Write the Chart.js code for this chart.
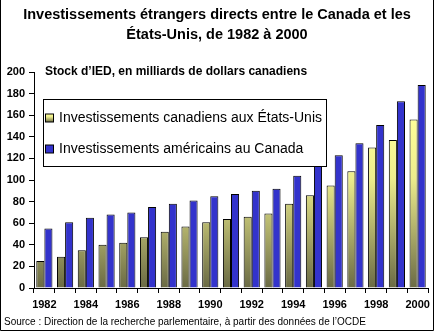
<!DOCTYPE html>
<html>
<head>
<meta charset="utf-8">
<script src="https://cdn.jsdelivr.net/npm/chart.js@4"></script>
<style>
html,body{margin:0;padding:0;background:#fff;}
#wrap{width:435px;height:332px;position:relative;}
</style>
</head>
<body>
<div id="wrap"><canvas id="c" width="435" height="332"></canvas></div>
<script>
const years = ['1982','1983','1984','1985','1986','1987','1988','1989','1990','1991','1992','1993','1994','1995','1996','1997','1998','1999','2000'];
const canadianInUS = [25,29,35,40,42,47,52,57,61,64,66,69,78,86,95,108,130,137,156];
const usInCanada = [55,61,65,68,70,75,78,81,85,87,90,92,104,115,123,134,151,173,188];
const seriesLabels = ['Investissements canadiens aux États-Unis','Investissements américains au Canada'];
const titleLines = ['Investissements étrangers directs entre le Canada et les','États-Unis, de 1982 à 2000'];
const unitLabel = 'Stock d\u2019IED, en milliards de dollars canadiens';
const sourceLabel = 'Source : Direction de la recherche parlementaire, à partir des données de l\u2019OCDE';

const FONT = '"Liberation Sans", Arial, sans-serif';
const YEL_TOP = '#FFFF99', YEL_BOT = '#6B6B45', BLUE = '#3333CC';

function yellowGradient(ctx2d, top, bottom){
  const g = ctx2d.createLinearGradient(0, top, 0, bottom);
  g.addColorStop(0, YEL_TOP);
  g.addColorStop(0.35, '#EDED8C');
  g.addColorStop(1, YEL_BOT);
  return g;
}

const gradientBars = {
  id: 'gradientBars',
  beforeDatasetsDraw(chart){
    const meta = chart.getDatasetMeta(0);
    meta.data.forEach(el => {
      const top = Math.min(el.y, el.base), bottom = Math.max(el.y, el.base);
      if (isFinite(top) && isFinite(bottom) && bottom > top) {
        el.options.backgroundColor = yellowGradient(chart.ctx, top, bottom);
      }
    });
  }
};

const overlay = {
  id: 'overlay',
  afterDatasetsDraw(chart){
    const c = chart.ctx;
    const a = chart.chartArea;
    c.save();
    c.fillStyle = '#000';
    c.font = 'bold 12px ' + FONT;
    c.textBaseline = 'middle';
    c.textAlign = 'left';
    c.fillText(unitLabel, a.left + 11, a.top);
    const bx = 43.5, by = 99.5, bw = 283, bh = 67;
    c.fillStyle = '#fff';
    c.fillRect(bx, by, bw, bh);
    c.strokeStyle = '#000';
    c.lineWidth = 1;
    c.strokeRect(bx, by, bw, bh);
    const ys = [118, 149];
    chart.data.datasets.forEach((ds, i) => {
      const sy = ys[i];
      const sx = 45.5;
      if (i === 0) c.fillStyle = yellowGradient(c, sy - 4, sy + 4);
      else c.fillStyle = BLUE;
      c.fillRect(sx, sy - 4, 8, 8);
      c.strokeStyle = '#000';
      c.strokeRect(sx, sy - 4, 8, 8);
      c.fillStyle = '#000';
      c.font = '14px ' + FONT;
      c.fillText(ds.label, 59, sy);
    });
    c.restore();
  },
  afterDraw(chart){
    const c = chart.ctx;
    c.save();
    c.strokeStyle = '#000';
    c.lineWidth = 1;
    c.beginPath();
    c.moveTo(0.5, 0); c.lineTo(0.5, 330.5);
    c.lineTo(433.5, 330.5); c.lineTo(433.5, 0);
    c.stroke();
    c.restore();
  }
};

new Chart(document.getElementById('c'), {
  type: 'bar',
  data: {
    labels: years,
    datasets: [
      {
        label: seriesLabels[0],
        data: canadianInUS,
        backgroundColor: YEL_TOP,
        borderColor: '#000',
        borderWidth: 1,
        barPercentage: 1.0,
        categoryPercentage: 0.78
      },
      {
        label: seriesLabels[1],
        data: usInCanada,
        backgroundColor: BLUE,
        borderColor: '#000',
        borderWidth: 1,
        barPercentage: 1.0,
        categoryPercentage: 0.78
      }
    ]
  },
  options: {
    responsive: false,
    animation: false,
    layout: { padding: { left: 4, right: 5, top: 0, bottom: 0 } },
    plugins: {
      legend: { display: false },
      tooltip: { enabled: false },
      title: {
        display: true,
        text: titleLines,
        color: '#000',
        font: { family: FONT, size: 14.5, weight: 'bold', lineHeight: 1.38 },
        padding: { top: 5, bottom: 27 }
      },
      subtitle: {
        display: true,
        position: 'bottom',
        align: 'start',
        text: sourceLabel,
        color: '#000',
        font: { family: FONT, size: 10, weight: 'normal', lineHeight: 1.2 },
        padding: { top: 0, bottom: 4 }
      }
    },
    scales: {
      x: {
        offset: true,
        grid: { display: true, drawOnChartArea: false, offset: true, color: '#000', tickLength: 5, tickWidth: 1 },
        border: { display: true, color: '#000', width: 1 },
        ticks: {
          autoSkip: false, maxRotation: 0, minRotation: 0, padding: 5,
          color: '#000',
          font: { family: FONT, size: 11, weight: 'bold' },
          callback: function(v, i){ const l = this.getLabelForValue(v); return (parseInt(l) % 2 === 0) ? l : ''; }
        },
        afterFit(scale){ scale.height = 28; }
      },
      y: {
        min: 0, max: 200,
        grid: { display: true, drawOnChartArea: false, color: '#000', tickLength: 5 },
        border: { display: true, color: '#000', width: 1 },
        ticks: {
          stepSize: 20, padding: 4, color: '#000',
          font: { family: FONT, size: 11, weight: 'bold' }
        },
        afterFit(scale){ scale.width = 30; }
      }
    }
  },
  plugins: [gradientBars, overlay]
});
</script>
</body>
</html>
